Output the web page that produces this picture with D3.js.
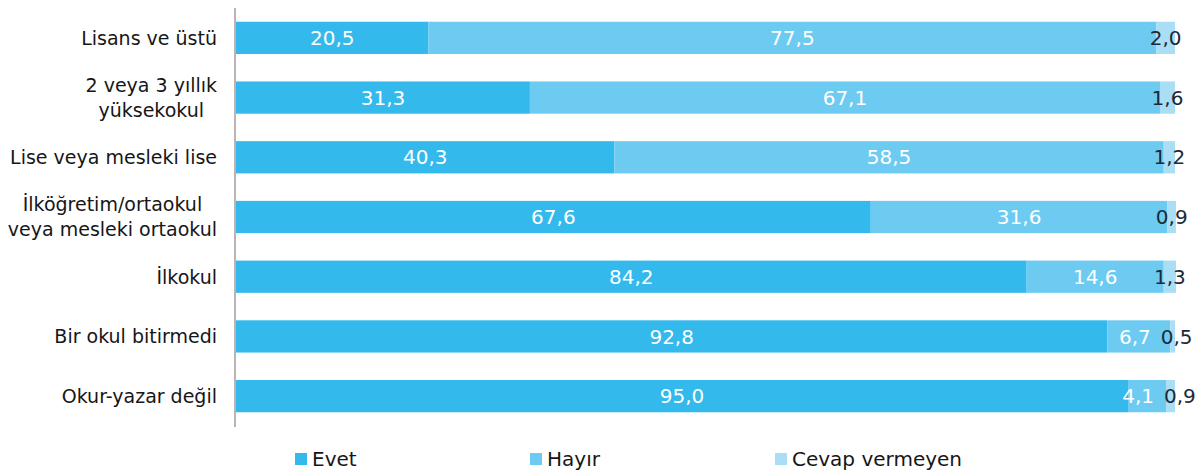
<!DOCTYPE html>
<html><head><meta charset="utf-8">
<script src="https://cdn.jsdelivr.net/npm/d3@7"></script>
<style>
html,body{margin:0;padding:0;background:#fff;}
svg{display:block;}
text{font-family:"DejaVu Sans",sans-serif;}
</style></head>
<body>
<svg id="chart" width="1202" height="475"></svg>
<script>
const categories = [
  ["Lisans ve üstü"],
  ["2 veya 3 yıllık","yüksekokul"],
  ["Lise veya mesleki lise"],
  ["İlköğretim/ortaokul","veya mesleki ortaokul"],
  ["İlkokul"],
  ["Bir okul bitirmedi"],
  ["Okur-yazar değil"]
];
const seriesNames = ["Evet","Hayır","Cevap vermeyen"];
const evet   = [20.5, 31.3, 40.3, 67.6, 84.2, 92.8, 95.0];
const hayir  = [77.5, 67.1, 58.5, 31.6, 14.6, 6.7, 4.1];
const cevap  = [2.0, 1.6, 1.2, 0.9, 1.3, 0.5, 0.9];
const colors = ["#33b9ec","#6dcbf2","#a9def5"];

const svg = d3.select("#chart");
const x0 = 236, x1 = 1175;
const x = d3.scaleLinear().domain([0,100]).range([x0,x1]);
const y = d3.scaleBand().domain(d3.range(categories.length)).range([8,426]).paddingInner(0.46).paddingOuter(0.23);
const fmt = v => v.toFixed(1).replace(".", ",");

const series = [evet, hayir, cevap];
const rows = categories.map((c,i) => {
  let acc = 0;
  return series.map((s,k) => { const st = acc; acc += s[i]; return {k, v:s[i], a:st, b:acc}; });
});

const g = svg.append("g");
rows.forEach((segs,i) => {
  segs.forEach(d => {
    g.append("rect").attr("x", x(d.a)).attr("y", y(i)).attr("width", x(d.b)-x(d.a)).attr("height", y.bandwidth()).attr("fill", colors[d.k]);
  });
  const cy = y(i) + y.bandwidth()/2;
  const labels = segs.map(d => {
    const t = g.append("text").attr("y", cy).attr("dy","0.36em").attr("text-anchor","middle")
      .style("font-size","20px").attr("fill", d.k < 2 ? "#ffffff" : "#1b2a38")
      .text(fmt(d.v));
    return {t, cx:(x(d.a)+x(d.b))/2, w:t.node().getComputedTextLength()};
  });
  // resolve overlap between Hayır and Cevap labels
  const h = labels[1], c = labels[2];
  const overlap = (h.cx + h.w/2 + 10) - (c.cx - c.w/2);
  if (overlap > 0) { h.cx -= overlap/2; c.cx += overlap/2; }
  labels.forEach(l => l.t.attr("x", l.cx));

  const lines = categories[i];
  const tmp = lines.map(l => g.append("text").style("font-size","19px").attr("fill","#161616").text(l));
  const maxW = d3.max(tmp, t => t.node().getComputedTextLength());
  const lh = 25;
  tmp.forEach((t,j) => {
    t.attr("x", 217 - maxW/2).attr("text-anchor","middle")
     .attr("y", cy + (j - (lines.length-1)/2)*lh).attr("dy","0.36em");
  });
});

svg.append("line").attr("x1",x0-1).attr("x2",x0-1).attr("y1",8).attr("y2",427).attr("stroke","#8e8181").attr("stroke-width",1.2);

const legX = [295, 530, 775];
const leg = svg.append("g");
seriesNames.forEach((n,k) => {
  leg.append("rect").attr("x", legX[k]).attr("y", 453).attr("width", 12).attr("height", 12).attr("fill", colors[k]);
  leg.append("text").attr("x", legX[k]+17).attr("y", 459).attr("dy","0.36em").style("font-size","20px").attr("fill","#161616").text(n);
});
</script>
</body></html>
